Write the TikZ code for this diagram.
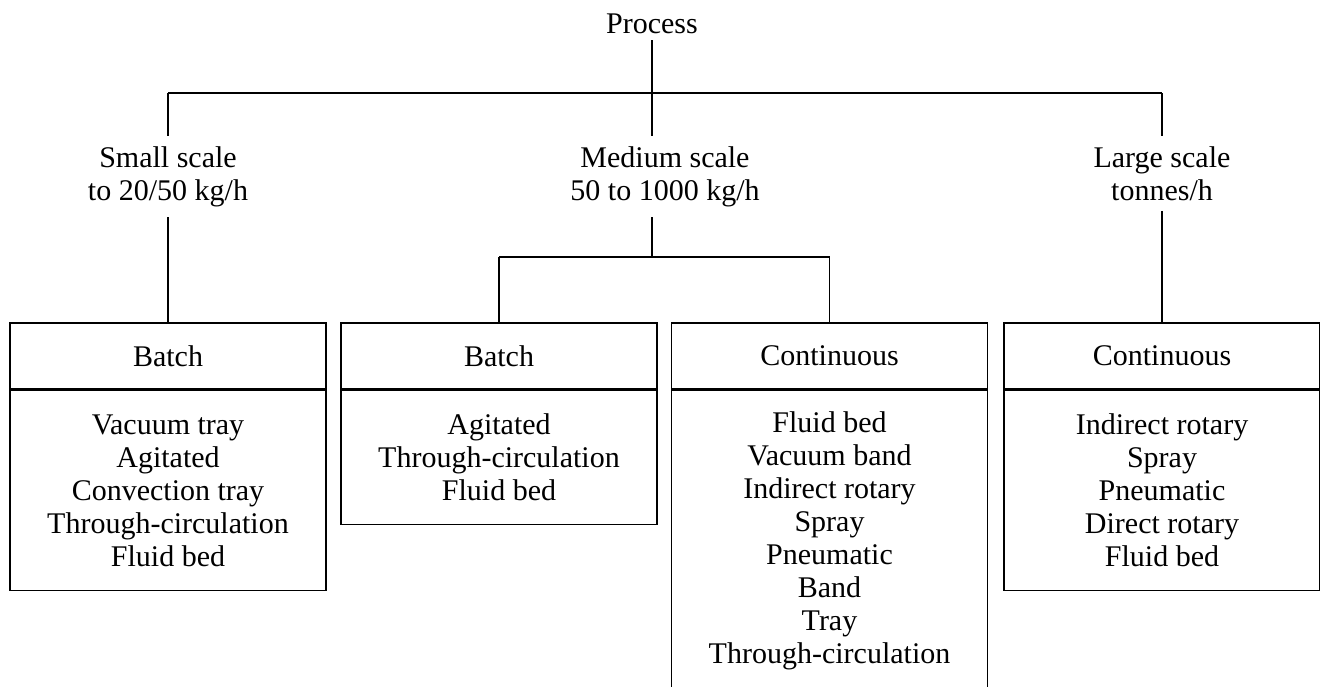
\documentclass[tikz,border=0pt]{standalone}
\usepackage{fontspec}
\setmainfont{Liberation Serif}
\usepackage{tikz}
\usetikzlibrary{calc}
\usetikzlibrary{positioning}

\begin{document}
\begin{tikzpicture}[
    x=0.5pt, y=-0.5pt,
    tree line/.style={line width=0.8pt},
    head box/.style={draw, line width=0.8pt, minimum width=158pt, minimum height=33pt,
        inner sep=0pt, font=\fontsize{15}{16.5}\selectfont},
    list box/.style={draw, line width=0.8pt, minimum width=158pt, align=center,
        inner sep=0pt, font=\fontsize{15}{16.5}\selectfont},
    scale label/.style={align=center, anchor=north, inner sep=5pt, font=\fontsize{15}{16.5}\selectfont},
    every node/.style={color=black}
    ]

    % frame
    \useasboundingbox (0,0) rectangle (1320,686);
    \clip (0,0) rectangle (1320,686);

    % top of the tree
    \node (proc) [inner sep=3pt, font=\fontsize{15}{16.5}\selectfont] at (652,24) {Process};
    \coordinate (barL) at (168,93);
    \coordinate (barM) at (652,93);
    \coordinate (barR) at (1162,93);
    % scales
    \node[scale label] (small) at (168,136) {Small scale\\to 20/50 kg/h};
    \node[scale label] (medium) at (665,136) {Medium scale\\50 to 1000 kg/h};
    \node[scale label] (large) at (1162,136) {Large scale\\tonnes/h};
    \coordinate (splitM) at (652,257);
    \coordinate (splitL) at (499,257);
    \coordinate (splitR) at (829.5,257);

    % boxes
    \node[head box] (hd1) at (168,356) {Batch};
    \node[list box, minimum height=100pt, below=0pt of hd1] (bd1)
        {Vacuum tray\\Agitated\\Convection tray\\Through-circulation\\Fluid bed};
    \node[head box] (hd2) at (499,356) {Batch};
    \node[list box, minimum height=67pt, below=0pt of hd2] (bd2)
        {Agitated\\Through-circulation\\Fluid bed};
    \node[head box] (hd3) at (829.5,356) {Continuous};
    \node[list box, minimum height=150pt, below=0pt of hd3] (bd3)
        {Fluid bed\\Vacuum band\\Indirect rotary\\Spray\\Pneumatic\\Band\\Tray\\Through-circulation};
    \node[head box] (hd4) at (1162,356) {Continuous};
    \node[list box, minimum height=100pt, below=0pt of hd4] (bd4)
        {Indirect rotary\\Spray\\Pneumatic\\Direct rotary\\Fluid bed};

    % lines
    \draw[tree line] (proc) -- (barM);
    \draw[tree line] (barL) -- (barR);
    \draw[tree line] (barL) -- (small);
    \draw[tree line] (barM) -- (barM |- medium.north);
    \draw[tree line] (barR) -- (large);
    \draw[tree line] (small) -- (hd1);
    \draw[tree line] (large) -- (hd4);
    \draw[tree line] (splitM |- medium.south) -- (splitM);
    \draw[tree line] (splitL) -- (splitR);
    \draw[tree line] (splitL) -- (hd2);
    \draw[tree line] (splitR) -- (hd3);
\end{tikzpicture}
\end{document}
